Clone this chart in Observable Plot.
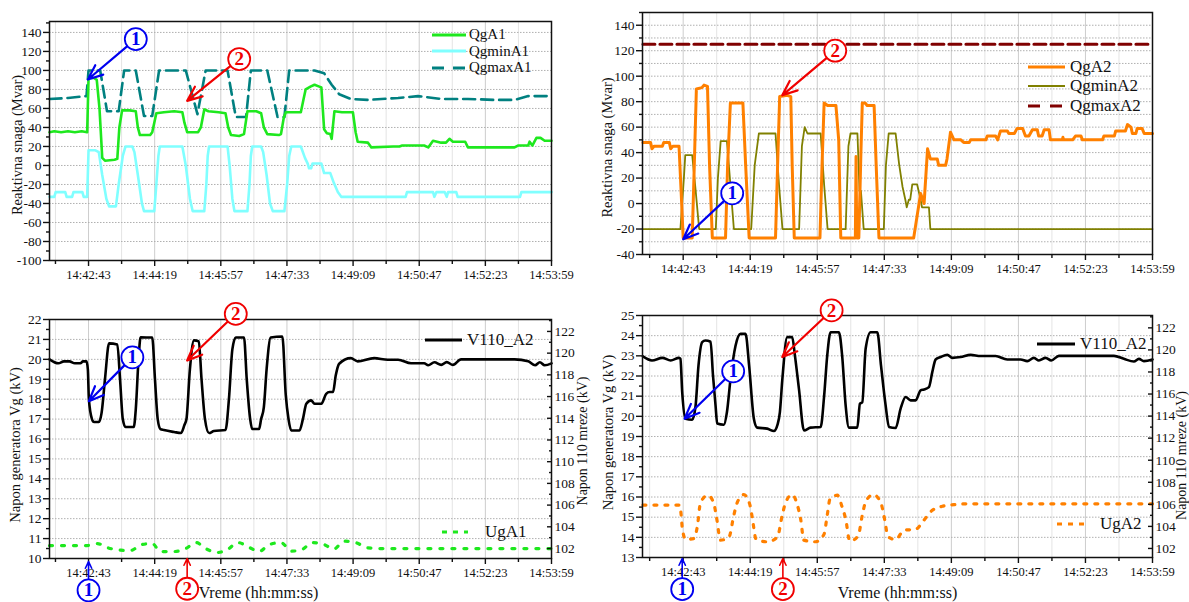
<!DOCTYPE html>
<html><head><meta charset="utf-8">
<script src="https://cdn.jsdelivr.net/npm/d3@7"></script>
<script src="https://cdn.jsdelivr.net/npm/@observablehq/plot@0.6"></script>
<style>
body{margin:0;background:#fff;width:1189px;height:602px;position:relative;overflow:hidden;font-family:'Liberation Serif',serif}
.p{position:absolute}
svg text{font-family:'Liberation Serif','Times New Roman',serif}
</style>
</head><body>
<div id="A" class="p" style="left:0;top:0"></div>
<div id="B" class="p" style="left:590px;top:0"></div>
<div id="C" class="p" style="left:0;top:290px"></div>
<div id="D" class="p" style="left:590px;top:290px"></div>
<script>
// ---------- DATA (t = seconds after 14:42:43) ----------
const timeLabels = ["14:42:43","14:44:19","14:45:57","14:47:33","14:49:09","14:50:47","14:52:23","14:53:59"];
const SPAN = 676;

const QgA1 = [[-57,35],[-50,36],[-40,35],[-30,36],[-20,35],[-10,36],[-2,35],[0,92],[8,92],[12,90],[16,60],[20,8],[24,5],[38,6],[42,7],[45,40],[49,58],[60,58],[69,57],[72,40],[75,32],[90,32],[93,35],[99,55],[110,56],[125,57],[137,56],[140,45],[144,35],[160,35],[164,40],[169,59],[175,57],[190,56],[200,55],[204,40],[208,32],[220,31],[227,33],[232,57],[245,57],[252,55],[256,40],[261,33],[278,32],[281,33],[285,50],[288,56],[310,56],[314,70],[317,80],[324,83],[330,85],[337,83],[340,82],[344,38],[348,34],[353,33],[355,28],[359,57],[370,56],[386,56],[390,35],[393,25],[408,24],[413,19],[445,20],[454,20],[458,21],[490,21],[496,19],[503,26],[515,24],[522,24],[527,28],[532,25],[550,25],[554,19],[622,19],[627,21],[642,21],[644,25],[648,21],[654,29],[660,29],[666,26],[676,26]];
const QgminA1 = [[-57,-33],[-50,-33],[-48,-28],[-34,-28],[-32,-33],[-24,-33],[-22,-28],[-9,-28],[-7,-33],[-2,-33],[0,16],[10,16],[15,14],[20,-10],[26,-35],[30,-43],[40,-43],[44,-20],[50,10],[54,20],[64,20],[67,14],[72,-10],[78,-40],[81,-48],[96,-48],[99,-20],[102,10],[104,20],[137,20],[142,0],[148,-35],[152,-48],[169,-48],[172,-20],[174,10],[176,20],[203,20],[206,0],[210,-35],[213,-48],[232,-48],[235,-20],[237,10],[239,20],[252,20],[255,14],[260,-10],[265,-40],[269,-48],[286,-48],[290,-20],[293,10],[296,20],[310,20],[316,8],[320,2],[322,-3],[325,-3],[327,2],[340,2],[344,-8],[353,-8],[358,-18],[364,-28],[369,-33],[463,-33],[465,-28],[503,-28],[505,-33],[508,-28],[520,-28],[523,-33],[525,-28],[537,-28],[539,-33],[630,-33],[632,-28],[676,-28]];
const QgmaxA1 = [[-57,70],[-30,71],[-3,73],[0,100],[17,100],[27,57],[44,57],[52,100],[69,100],[81,52],[93,52],[103,100],[142,100],[159,54],[171,100],[203,100],[215,51],[230,51],[237,100],[261,100],[276,51],[286,51],[293,100],[330,100],[344,97],[355,85],[366,75],[383,70],[408,69],[452,71],[481,73],[515,70],[554,70],[593,69],[622,69],[642,73],[676,73]];

const QgA2 = [[-58,48],[-47,48],[-45,43],[-42,45],[-30,45],[-28,48],[-20,48],[-18,43],[-15,45],[-6,45],[-3,10],[0,-27],[13,-27],[16,30],[19,90],[27,91],[30,93],[35,92],[38,30],[42,-27],[61,-27],[64,30],[68,79],[86,79],[90,30],[95,-27],[133,-27],[136,30],[139,84],[150,85],[155,84],[157,30],[160,-27],[197,-27],[200,30],[203,79],[208,77],[220,77],[224,50],[227,-27],[248,-27],[249,37],[250,-27],[253,-27],[256,40],[258,79],[262,79],[265,77],[275,77],[278,30],[282,-27],[332,-27],[342,8],[347,0],[352,43],[356,35],[366,35],[368,30],[378,30],[380,35],[385,56],[390,50],[400,50],[404,48],[412,48],[414,50],[436,50],[438,53],[450,53],[453,50],[457,57],[467,57],[469,55],[477,55],[481,59],[489,59],[493,53],[498,53],[503,58],[510,58],[512,53],[517,53],[520,58],[527,58],[529,50],[546,50],[547,52],[548,50],[561,50],[565,53],[573,53],[575,50],[604,50],[606,53],[621,53],[623,57],[637,57],[640,62],[645,60],[647,55],[652,55],[654,59],[661,59],[664,55],[676,55]];
const QgminA2 = [[-58,-20],[-4,-20],[1,20],[3,38],[13,38],[18,10],[23,-20],[47,-20],[50,20],[54,49],[63,49],[68,15],[73,-20],[98,-20],[103,30],[109,55],[133,55],[138,15],[143,-20],[167,-20],[171,45],[175,60],[179,55],[198,55],[203,15],[208,-20],[234,-20],[238,45],[241,55],[251,55],[254,10],[256,10],[260,-20],[289,-20],[292,30],[296,55],[306,55],[311,31],[316,13],[320,3],[322,-3],[325,3],[327,3],[330,15],[337,15],[342,3],[344,-3],[354,-3],[356,-20],[676,-20]];
const QgmaxA2 = [[-58,125],[676,125]];

const V110_A2_left = [[-57,20.0],[-44,19.8],[-36,19.9],[-28,19.9],[-20,19.8],[-12,19.8],[-8,19.9],[-3,19.9],[-1,19.5],[0.5,18],[5,17],[8,16.85],[15,16.85],[19,17.3],[24,19],[30,20.8],[42,20.75],[46,19],[50,17],[54,16.6],[66,16.6],[69,17.5],[73,20],[76,21.1],[93,21.1],[97,19],[101,17],[105,16.5],[110,16.45],[125,16.35],[135,16.3],[140,16.7],[143,17],[148,19.5],[154,20.95],[161,20.9],[165,19],[170,17],[176,16.3],[183,16.4],[200,16.45],[205,18],[210,20.5],[215,21.1],[227,21.1],[231,19],[236,17],[239,16.5],[249,16.5],[252,17],[256,17.6],[260,19.5],[266,21.1],[283,21.15],[288,18.2],[292,17],[296,16.43],[308,16.43],[313,17.0],[318,17.77],[325,17.94],[330,17.77],[340,17.77],[347,18.27],[352,18.36],[357,18.36],[361,19.2],[366,19.78],[383,20.06],[393,19.9],[417,20.06],[437,19.98],[452,19.98],[471,19.8],[490,19.8],[496,19.7],[505,19.85],[515,19.72],[523,19.86],[532,19.72],[544,20.0],[622,20.0],[642,19.9],[652,19.7],[659,19.85],[666,19.7],[676,19.8]];
const UgA1 = [[-57,10.65],[-2,10.65],[13,10.75],[27,10.55],[47,10.42],[61,10.4],[78,10.7],[93,10.75],[105,10.35],[125,10.35],[142,10.5],[157,10.8],[171,10.5],[188,10.3],[203,10.45],[218,10.8],[235,10.55],[249,10.35],[264,10.7],[281,10.8],[296,10.37],[310,10.42],[327,10.8],[344,10.7],[358,10.47],[373,10.87],[390,10.8],[408,10.53],[428,10.5],[676,10.5]];

const V110_A2_right = [[-58,22.97],[-45,22.77],[-30,22.9],[-18,22.77],[-6,22.9],[-4,22.85],[-1.4,21.2],[3.4,19.88],[13,19.83],[17.8,20.5],[22,22.5],[27.4,23.68],[32,23.76],[39.4,23.7],[43,22],[46.6,20.54],[49,19.64],[58.6,19.58],[63,20.2],[68.2,21.86],[75.4,23.5],[82.6,24.09],[89.8,24.09],[95,22.5],[101.8,19.88],[106.6,19.44],[121,19.39],[130.7,19.27],[136,19.6],[139.3,20.21],[142.7,21.78],[149.9,23.93],[157,23.93],[161,23],[166.7,21.37],[174,19.3],[183.5,19.44],[198,19.47],[203,21],[207.5,23.02],[212.3,24.17],[224.3,24.17],[229,23],[234,20.54],[238.8,19.44],[250.8,19.44],[254.6,20.63],[258,20.7],[262.8,23.35],[270,24.17],[279.6,24.17],[285,22.5],[291.6,20.54],[296.4,19.47],[306,19.42],[313.2,20.38],[320.4,20.96],[327.6,20.79],[334.8,20.79],[342,21.29],[346.8,21.33],[354,21.45],[358.8,22.19],[363.6,22.82],[370.8,22.94],[380.4,23.05],[387.6,22.9],[399.6,22.94],[414,23.05],[428.4,22.99],[450,22.99],[466.8,22.82],[486,22.82],[495.6,22.74],[505.2,22.9],[512.4,22.77],[522,22.9],[530.2,22.77],[541.2,23.0],[620.5,23.0],[634.8,22.85],[649.2,22.72],[656.4,22.85],[663.6,22.74],[676,22.82]];
const UgA2 = [[-58,15.6],[-5,15.6],[-2.9,15.1],[-1.4,14.5],[3.4,13.9],[15.4,13.94],[20.2,14.5],[25,15.72],[35.5,16.09],[44.2,15.67],[48,15.0],[53.8,13.86],[65.8,14.0],[73,15.1],[77.8,15.72],[87.4,16.12],[96,15.62],[99.4,15.0],[105.2,13.89],[121,13.78],[135.5,14.0],[142.7,15.1],[147.5,15.72],[157,16.12],[164.3,15.62],[169,14.95],[173.9,13.86],[190.7,13.78],[202.7,14.14],[207.5,15.1],[211.4,15.89],[222,16.09],[229,15.5],[234,14.92],[240,13.81],[252,14.07],[258,15.1],[262.8,15.76],[273.8,16.12],[284.4,15.74],[289,15.1],[291.6,14.6],[294.5,14.05],[306,13.89],[318,14.35],[334.8,14.4],[346.8,14.85],[358.8,15.34],[373.2,15.54],[390,15.62],[404.4,15.66],[676,15.66]];

// right-axis (110 kV) scale limits matching the left kV range
const rightDomainC = [101.08, 123.10];
const rightDomainD = [101.18, 123.12];

// annotations: circled numbers (cx,cy) pointing at (tx,ty), in data units
const annA = [{n:"1",cx:69,cy:133,tx:-1,ty:90.5},{n:"2",cx:220,cy:112,tx:144,ty:68}];
const annB = [{n:"2",cx:219,cy:120,tx:142.7,ty:85},{n:"1",cx:70.6,cy:8,tx:0,ty:-28}];
const annC = [{n:"1",cx:64,cy:20.1,tx:0.5,ty:17.9},{n:"2",cx:215,cy:22.28,tx:144,ty:19.94}];
const annD = [{n:"1",cx:72,cy:22.23,tx:2,ty:19.88},{n:"2",cx:213.8,cy:25.25,tx:142.7,ty:22.94}];
const axAnnC = [{n:"1",cx:0,cy:8.4,tx:0,ty:9.85},{n:"2",cx:144,cy:8.48,tx:144,ty:10}];
const axAnnD = [{n:"1",cx:-1.4,cy:11.43,tx:-1.4,ty:12.95},{n:"2",cx:143.6,cy:11.43,tx:143.6,ty:12.95}];

// ---------- DRAWING ----------
const FONT = "Liberation Serif, Times New Roman, serif";
const BLUE = "#0000f0", RED = "#f00000";
const STEP = SPAN/(timeLabels.length-1);
const majorX = timeLabels.map((_, i) => i*STEP);

function annMarks(list, big) {
  return list.flatMap(a => {
    const c = a.n === "1" ? BLUE : RED;
    return [
      Plot.arrow([a], {x1:"cx", y1:"cy", x2:"tx", y2:"ty", stroke:c, strokeWidth: big ? 2.2 : 1.6, headLength: big ? 11 : 7, headAngle: big ? 45 : 50, insetStart: 11}),
      Plot.dot([a], {x:"cx", y:"cy", r:11, fill:"white", stroke:c, strokeWidth:1.8}),
      Plot.text([a], {x:"cx", y:"cy", text:"n", fill:c, fontSize:19, fontWeight:"bold", fontFamily:FONT})
    ];
  });
}

function panel(o) {
  const minorX = d3.range(-1, timeLabels.length-1).map(i => (i+0.5)*STEP).filter(v => v >= o.xDomain[0]);
  const marks = [
    Plot.gridX(minorX, {stroke:"#e4e4e4", strokeOpacity:1}),
    Plot.gridX(majorX, {stroke:"#cdcdcd", strokeOpacity:1}),
    Plot.gridY(o.yGrid, {stroke:"#b0b0b0", strokeOpacity:1, strokeDasharray:"1.5,1.5"}),
    ...o.series.map(s => Plot.line(s.data, {x: d => d[0], y: d => d[1], stroke: s.color, strokeWidth: s.width, strokeDasharray: s.dash, curve: s.curve || "linear", strokeLinejoin: "round"})),
    Plot.frame({stroke:"#111", strokeWidth:1.5}),
    Plot.axisX(majorX, {tickSize:6, tickPadding:4, tickFormat: d => timeLabels[majorX.indexOf(d)], fontSize:12.5, fontFamily:FONT, label:null, color:"#111", strokeWidth:1.4}),
    Plot.axisX(minorX, {tickSize:4, tickFormat: () => "", label:null, color:"#111", strokeWidth:1.4}),
    Plot.axisY(o.yTicks, {tickSize:6, tickPadding:2, tickFormat: d => String(d), fontSize:13.5, fontFamily:FONT, label:null, color:"#111", strokeWidth:1.4}),
    Plot.axisY(o.yMinor, {tickSize:3, tickFormat: () => "", label:null, color:"#111", strokeWidth:1.4}),
    Plot.text([o.yTitle], {frameAnchor:"left", textAnchor:"middle", lineAnchor:"middle", dx:o.titleDx, dy:o.titleDy, rotate:-90, fontSize:14.5, fontFamily:FONT, fill:"#111"})
  ];
  if (o.right) {
    const r = o.right;
    const toLeft = v => o.yDomain[0] + (v - r.domain[0])/(r.domain[1]-r.domain[0])*(o.yDomain[1]-o.yDomain[0]);
    const toRight = v => r.domain[0] + (v - o.yDomain[0])/(o.yDomain[1]-o.yDomain[0])*(r.domain[1]-r.domain[0]);
    const rt = d3.range(102, 123, 2), rm = d3.range(103, 124, 2).filter(v => v <= r.domain[1]);
    marks.push(
      Plot.axisY(rt.map(toLeft), {anchor:"right", tickSize:-5, tickPadding:8, tickFormat: d => String(Math.round(toRight(d))), fontSize:13.5, fontFamily:FONT, label:null, color:"#111", strokeWidth:1.4}),
      Plot.axisY(rm.map(toLeft), {anchor:"right", tickSize:-3, tickFormat: () => "", label:null, color:"#111", strokeWidth:1.4}),
      Plot.text([r.title], {frameAnchor:"right", textAnchor:"middle", lineAnchor:"middle", dx:r.dx, dy:r.dy, rotate:-90, fontSize:14, fontFamily:FONT, fill:"#111"}),
      Plot.text([o.xTitle], {frameAnchor:"bottom", textAnchor:"middle", lineAnchor:"middle", dx:o.xTitleDx, dy:o.xTitleDy, fontSize:16, fontFamily:FONT, fill:"#111"})
    );
  }
  marks.push(...annMarks(o.ann, true));
  if (o.axAnn) marks.push(...annMarks(o.axAnn, false));
  const chart = Plot.plot({
    width:o.width, height:o.height,
    marginLeft:o.m[0], marginRight:o.m[1], marginTop:o.m[2], marginBottom:o.m[3],
    x:{domain:o.xDomain, axis:null},
    y:{domain:o.yDomain, axis:null},
    style:{fontFamily:FONT, fontSize:"13px", background:"transparent", overflow:"visible", color:"#111"},
    marks
  });
  document.getElementById(o.el).appendChild(chart);
}

panel({el:"A", width:590, height:290, m:[49,39,21,30], xDomain:[-57,676], yDomain:[-100,151.5],
  yTicks:d3.range(-100,141,20), yMinor:d3.range(-90,152,20), yGrid:d3.range(-100,141,20),
  yTitle:"Reaktivna snaga (Mvar)", titleDx:-32, titleDy:4,
  series:[
    {data:QgmaxA1, color:"#008080", width:2.6, dash:"12,6"},
    {data:QgminA1, color:"#80ffff", width:2.6},
    {data:QgA1, color:"#1ee81e", width:2.6}
  ], ann:annA});

panel({el:"B", width:599, height:290, m:[52,37,12,36], xDomain:[-58.6,676], yDomain:[-40,150],
  yTicks:d3.range(-40,141,20), yMinor:d3.range(-30,151,20), yGrid:d3.range(-40,151,10),
  yTitle:"Reaktivna snaga (Mvar)", titleDx:-35, titleDy:14,
  series:[
    {data:QgmaxA2, color:"#800000", width:3, dash:"12,5"},
    {data:QgminA2, color:"#808000", width:1.8},
    {data:QgA2, color:"#ff8000", width:3}
  ], ann:annB});

panel({el:"C", width:590, height:312, m:[49,39,29,44], xDomain:[-57,676], yDomain:[10,22],
  yTicks:d3.range(10,22.01,1), yMinor:d3.range(10.5,22,1), yGrid:d3.range(10,22.01,1),
  yTitle:"Napon generatora Vg (kV)", titleDx:-34, titleDy:6,
  right:{domain:rightDomainC, title:"Napon 110 mreze (kV)", dx:31, dy:2},
  xTitle:"Vreme (hh:mm:ss)", xTitleDx:-42, xTitleDy:34,
  series:[
    {data:UgA1, color:"#1ee81e", width:3.2, dash:"3,9", curve:"monotone-x"},
    {data:V110_A2_left, color:"#000", width:2.6, curve:"monotone-x"}
  ], ann:annC, axAnn:axAnnC});

panel({el:"D", width:599, height:312, m:[52,37,25,45], xDomain:[-58.6,676], yDomain:[13,25],
  yTicks:d3.range(13,25.01,1), yMinor:d3.range(13.5,25,1), yGrid:d3.range(13,25.01,1),
  yTitle:"Napon generatora Vg (kV)", titleDx:-34, titleDy:-4,
  right:{domain:rightDomainD, title:"Napon 110 mreze (kV)", dx:29, dy:19},
  xTitle:"Vreme (hh:mm:ss)", xTitleDx:0, xTitleDy:35,
  series:[
    {data:UgA2, color:"#ff8000", width:3.2, dash:"3,8", curve:"monotone-x"},
    {data:V110_A2_right, color:"#000", width:2.6, curve:"monotone-x"}
  ], ann:annD, axAnn:axAnnD});

// ---------- LEGENDS ----------
function legend(items, o) {
  const div = d3.select("body").append("div").style("position","absolute")
    .style("left", o.left+"px").style("top", o.top+"px")
    .style("font-family", "'Liberation Serif','Times New Roman',serif").style("font-size", o.fs+"px").style("color","#111");
  items.forEach(it => {
    const row = div.append("div").style("display","flex").style("align-items","center").style("height", o.rowH+"px").style("white-space","nowrap");
    const svg = row.append("svg").attr("width", o.sw).attr("height", 10);
    svg.append("line").attr("x1",0).attr("x2",o.sw).attr("y1",5).attr("y2",5)
      .attr("stroke", it.color).attr("stroke-width", it.width).attr("stroke-dasharray", it.dash || null);
    row.append("span").style("margin-left", o.gap+"px").text(it.label);
  });
}
legend([{label:"QgA1", color:"#1ee81e", width:3},{label:"QgminA1", color:"#80ffff", width:3},{label:"QgmaxA1", color:"#008080", width:3, dash:"12,9"}],
  {left:432, top:26.5, rowH:16.5, sw:34, gap:3, fs:15});
legend([{label:"QgA2", color:"#ff8000", width:3},{label:"QgminA2", color:"#808000", width:2},{label:"QgmaxA2", color:"#800000", width:3, dash:"12,10"}],
  {left:1028, top:57, rowH:19.5, sw:37, gap:5, fs:17});
legend([{label:"V110_A2", color:"#000", width:3}], {left:425, top:330, rowH:20, sw:37, gap:5, fs:17});
legend([{label:"UgA1", color:"#1ee81e", width:3.2, dash:"5,6"}], {left:442, top:522, rowH:20, sw:26, gap:17, fs:17});
legend([{label:"V110_A2", color:"#000", width:3}], {left:1037, top:334, rowH:20, sw:38, gap:5, fs:17});
legend([{label:"UgA2", color:"#ff8000", width:3.2, dash:"5,6"}], {left:1057, top:514, rowH:20, sw:27, gap:16, fs:17});
</script>
</body></html>
